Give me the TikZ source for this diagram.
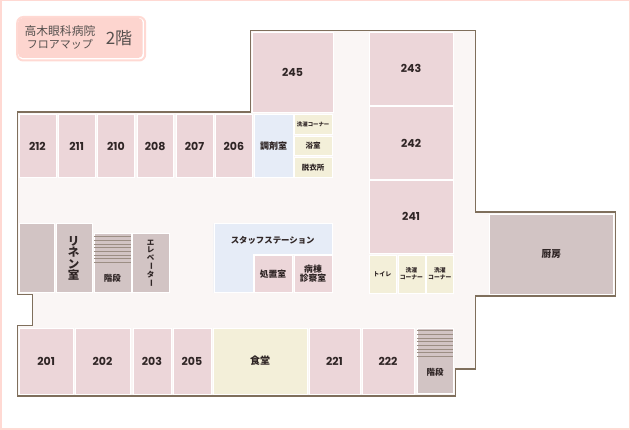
\documentclass[tikz,border=0pt]{standalone}
\usepackage{fontspec}
\usepackage{graphicx}
\usetikzlibrary{positioning}
\setmainfont{Poppins}
\newfontfamily\jpfont{Noto Sans CJK JP}
\definecolor{framepink}{HTML}{FFD9D3}
\definecolor{titlepink}{HTML}{FDD5CF}
\definecolor{floorbg}{HTML}{FAF6F5}
\definecolor{wallbrown}{HTML}{7F6F5C}
\definecolor{roompink}{HTML}{ECD6D9}
\definecolor{roomgrey}{HTML}{D2C4C4}
\definecolor{roomblue}{HTML}{E6ECF7}
\definecolor{roomcream}{HTML}{F3EFD9}
\definecolor{inktext}{HTML}{2F2525}
\definecolor{titletext}{HTML}{55504E}
\definecolor{stairline}{HTML}{9C8E84}
\newcommand{\jpsize}[1]{\jpfont\bfseries\fontsize{#1}{#1}\selectfont}
\newcommand{\longbar}{\rotatebox[origin=c]{-90}{ー}}
\tikzset{
  room/.style={draw=white, line width=.4pt, inner sep=0pt, outer sep=0pt, anchor=north west, text=inktext, align=center},
  roomsize/.style n args={2}{minimum width=#1pt, minimum height=#2pt},
  pinkroom/.style={room, fill=roompink, font=\jpsize{8.8}},
  numroom/.style={room, fill=roompink, text height=8.6pt, text depth=0pt, font=\bfseries\fontsize{11}{11}\selectfont},
  greyroom/.style={room, fill=roomgrey, font=\jpsize{9}},
  blueroom/.style={room, fill=roomblue, font=\jpsize{9}},
  creamroom/.style={room, fill=roomcream, font=\jpsize{7.5}},
  tagtext/.style={text=inktext, inner sep=0pt, align=center, font=\jpsize{8.5}},
  titletag/.style={text=titletext, inner sep=0pt, align=center}
}
\begin{document}
\begin{tikzpicture}[x=1pt,y=-1pt]
    \useasboundingbox (0,0) rectangle (630,430);
    \draw[framepink, line width=1.5pt] (.75,.75) rectangle (629.25,429.25);

    % title plate
    \node[draw=framepink, line width=2pt, fill=white, rounded corners=6pt, minimum width=128pt, minimum height=43.5pt, anchor=north west] (plateout) at (16.2,16) {};
    \node[fill=titlepink, rounded corners=4.5pt, minimum width=124.5pt, minimum height=40pt, anchor=north west] (platein) at (18,17.8) {};
    \node[titletag, font=\jpfont\fontsize{11.8}{11.8}\selectfont] (titlea) at (60,31.5) {高木眼科病院};
    \node[titletag, font=\jpfont\fontsize{11}{11}\selectfont] (titleb) at (60,44) {フロアマップ};
    \node[titletag, font=\jpfont\fontsize{17}{17}\selectfont] (titlec) at (119,38) {2階};

    % floor outline
    \draw[wallbrown, line width=1.2pt, fill=floorbg] (17.3,112) -- (250.5,112) -- (250.5,30.7) -- (475.7,30.7)
      -- (475.7,212) -- (615.7,212) -- (615.7,296) -- (475.7,296) -- (475.7,369) -- (455.3,369)
      -- (455.3,396) -- (17.3,396) -- (17.3,325.7) -- (32.3,325.7) -- (32.3,294.7) -- (17.3,294.7) -- cycle;

    % upper row
    \node[numroom, roomsize={36.7}{63.5}] (r212) at (19,114) {212};
    \node[numroom, roomsize={36.7}{63.5}] (r211) [right=2.6pt of r212] {211};
    \node[numroom, roomsize={36.7}{63.5}] (r210) [right=2.6pt of r211] {210};
    \node[numroom, roomsize={36.7}{63.5}] (r208) [right=2.6pt of r210] {208};
    \node[numroom, roomsize={36.7}{63.5}] (r207) [right=2.6pt of r208] {207};
    \node[numroom, roomsize={36.7}{63.5}] (r206) [right=2.6pt of r207] {206};
    \node[blueroom, roomsize={39}{63.5}] (chozai) [right=2pt of r206] {調剤室};
    \node[numroom, roomsize={80.4}{79.7}] (r245) at (252.3,32.3) {245};
    \node[creamroom, roomsize={37.7}{20}, font=\jpsize{5.4}] (sentaku) at (294.3,114) {洗濯コーナー};
    \node[creamroom, roomsize={37.7}{19.7}] (yokushitsu) [below=2pt of sentaku] {浴室};
    \node[creamroom, roomsize={37.7}{20}] (datsuijo) [below=1.7pt of yokushitsu] {脱衣所};

    % right column
    \node[numroom, roomsize={84.3}{72.7}] (r243) at (369,32.3) {243};
    \node[numroom, roomsize={84.3}{72.3}] (r242) [below=1.7pt of r243] {242};
    \node[numroom, roomsize={84.3}{72.7}] (r241) [below=1.3pt of r242] {241};
    \node[creamroom, roomsize={26.7}{38}, font=\jpsize{6}] (toilet) at (369,255) {トイレ};
    \node[creamroom, roomsize={27.3}{38}, font=\jpsize{5.8}] (sentakua) [right=2pt of toilet] {洗濯\\[1pt]コーナー};
    \node[creamroom, roomsize={27}{38}, font=\jpsize{5.8}] (sentakub) [right=1.3pt of sentakua] {洗濯\\[1pt]コーナー};
    \node[greyroom, roomsize={124}{80}, font=\jpsize{9.7}] (chubo) at (489.3,214) {厨房};

    % middle block
    \node[greyroom, roomsize={35}{69}] (blank) at (19,223.7) {};
    \node[greyroom, roomsize={36}{69}, font=\jpsize{11.5}] (linen) [right=1.7pt of blank] {リ\\ネ\\ン\\室};
    \node[greyroom, roomsize={36.7}{59}] (stairsa) at (94,233.7) {};
    \node[greyroom, roomsize={37}{59}, font=\jpsize{7.5}] (elevator) [right=1.3pt of stairsa] {エ\\レ\\ベ\\\longbar\\タ\\\longbar};
    \foreach \ly in {237,240.7,244.4,248,251.7,255.4,259,262.7}
      \draw[stairline, line width=1pt] (94,\ly) -- (130.7,\ly);
    \node[tagtext] (stairsatag) at (112.3,278) {階段};

    \draw[white, line width=.4pt, fill=roomblue] (213.7,223.7) -- (332,223.7) -- (332,254.5) -- (253.3,254.5)
      -- (253.3,292.7) -- (213.7,292.7) -- cycle;
    \node[tagtext, font=\jpsize{8.4}] (staff) at (272.7,240) {スタッフステーション};
    \node[pinkroom, roomsize={38}{37.7}] (shochi) at (254,255) {処置室};
    \node[pinkroom, roomsize={38}{37.7}] (shinsatsu) [right=2pt of shochi] {病棟\\診察室};

    % lower row
    \node[numroom, roomsize={54.3}{66}] (r201) at (19,328) {201};
    \node[numroom, roomsize={55}{66}] (r202) [right=1.7pt of r201] {202};
    \node[numroom, roomsize={38}{66}] (r203) [right=3pt of r202] {203};
    \node[numroom, roomsize={38}{66}] (r205) [right=2pt of r203] {205};
    \node[creamroom, roomsize={94}{66}, font=\jpsize{10}] (shokudo) [right=2pt of r205] {食堂};
    \node[numroom, roomsize={51.3}{66}] (r221) [right=1.7pt of shokudo] {221};
    \node[numroom, roomsize={52}{66}] (r222) [right=2pt of r221] {222};
    \node[greyroom, roomsize={36.3}{65}, anchor=north west] (stairsb) at (417,328) {};
    \foreach \ly in {330.7,334.4,338.1,341.8,345.5,349.2,352.9,356.7}
      \draw[stairline, line width=1pt] (417,\ly) -- (453.3,\ly);
    \node[tagtext] (stairsbtag) at (435,372) {階段};
\end{tikzpicture}
\end{document}
